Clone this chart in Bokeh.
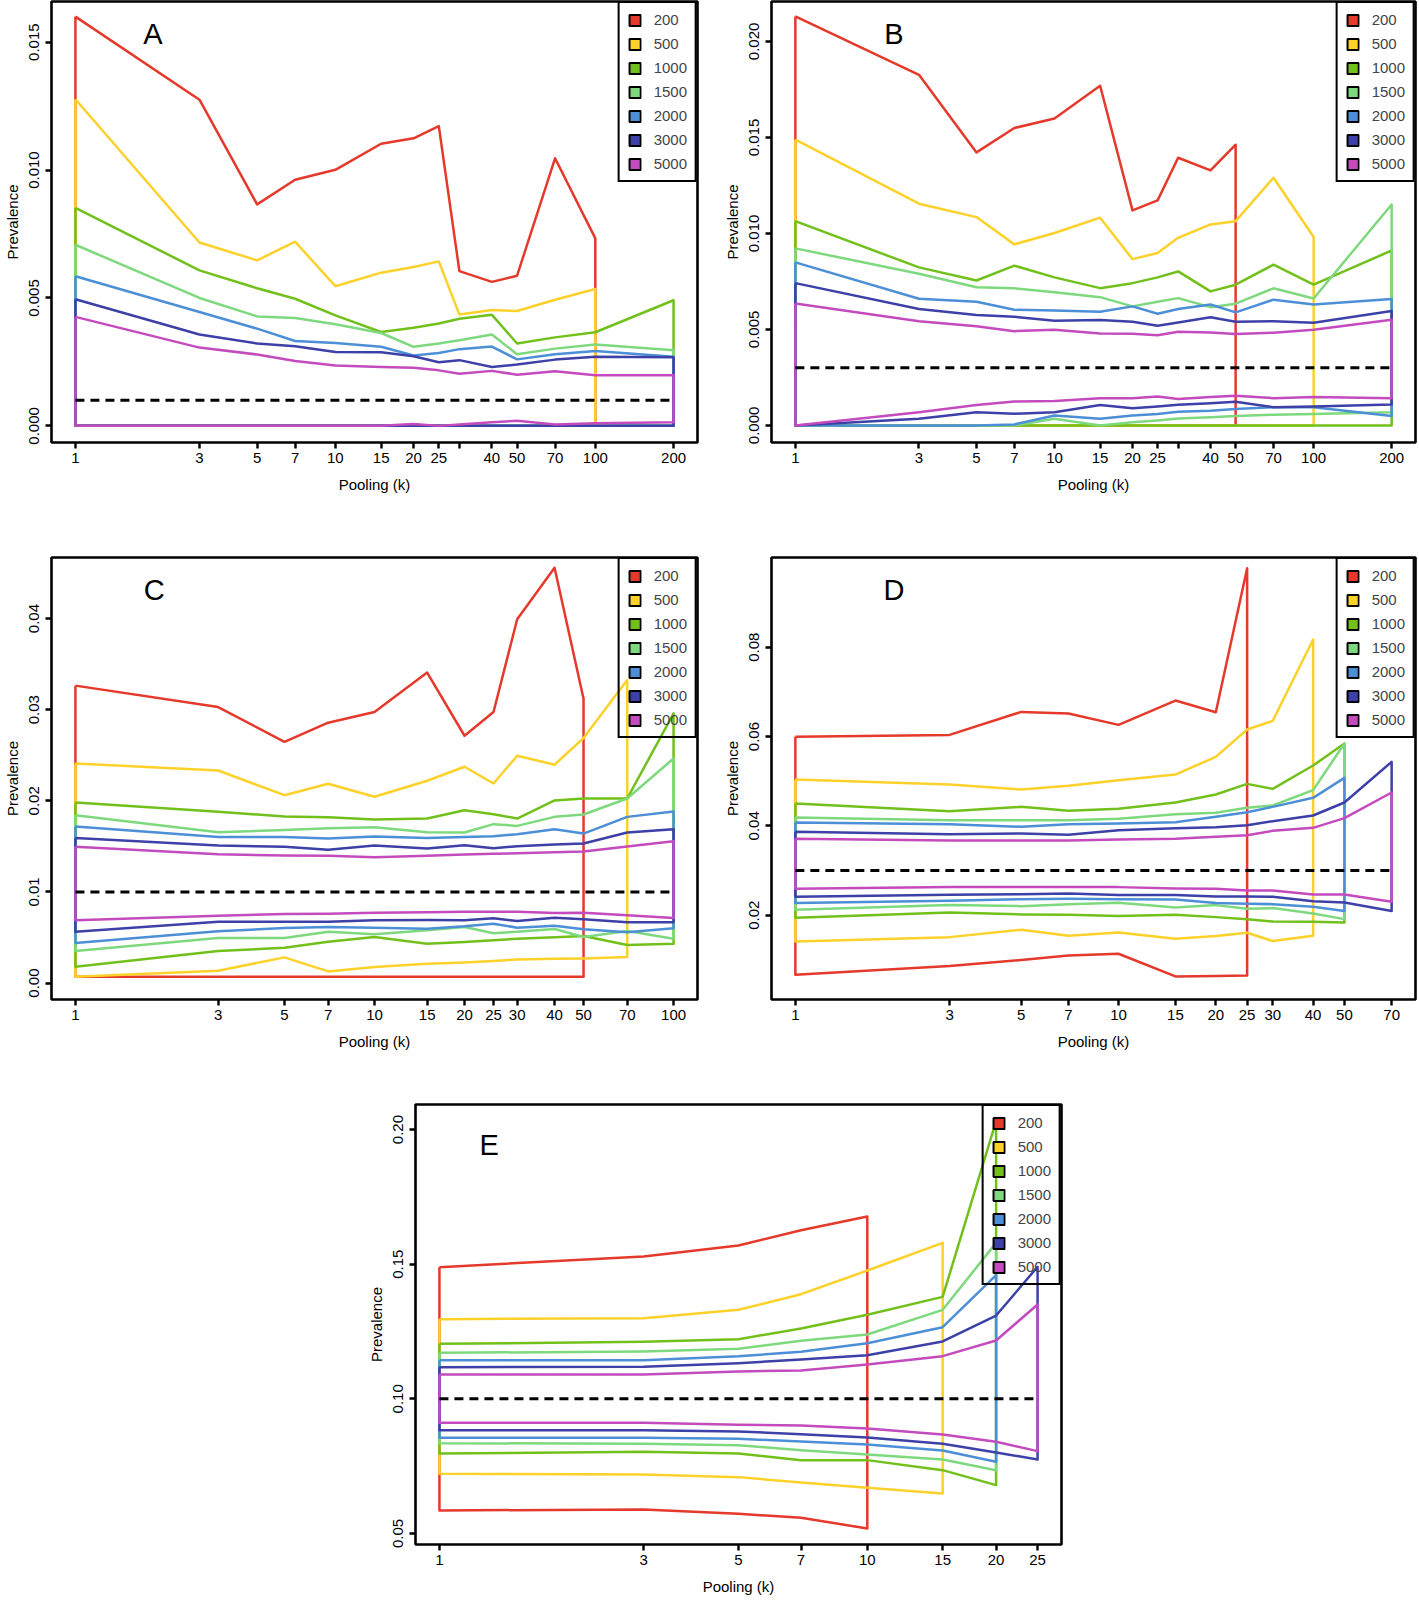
import numpy as np
from bokeh.plotting import figure
from bokeh.models import (Range1d, FixedTicker, PrintfTickFormatter, Legend,
                          LegendItem, Label, Spacer)
from bokeh.layouts import column, row
from bokeh.embed import file_html
from bokeh.resources import INLINE

FONT = "Liberation Sans"
SIZES = ["200", "500", "1000", "1500", "2000", "3000", "5000"]
COLORS = ["#E5392B", "#FCD12A", "#72C01B", "#7ED97E", "#4C8FD6", "#3D40A6", "#C44BBE"]

# ---------------- Panel A (true prevalence 0.001) ----------------
A_k = [1, 3, 5, 7, 10, 15, 20, 25, 30, 40, 50, 70, 100, 200]
A_truth = 0.001
A_hi_200 = [0.0160, 0.01275, 0.00866, 0.00962, 0.01001, 0.01103, 0.01124, 0.01172, 0.00605, 0.00563, 0.00587, 0.01046, 0.00733]
A_lo_200 = [0, 0, 0, 0, 0, 0, 0, 0, 0, 0, 0, 0, 0]
A_hi_500 = [0.01277, 0.00717, 0.00647, 0.0072, 0.00546, 0.00599, 0.00621, 0.00643, 0.00435, 0.00453, 0.00449, 0.00493, 0.00535]
A_lo_500 = [0, 0, 0, 0, 0, 0, 0, 0, 0, 0, 0, 0, 0]
A_hi_1000 = [0.00852, 0.00608, 0.00538, 0.00497, 0.00432, 0.00367, 0.00384, 0.0040, 0.00419, 0.00434, 0.00322, 0.00346, 0.00366, 0.00491]
A_lo_1000 = [0, 0, 0, 0, 0, 0, 0, 0, 0, 0, 0, 0, 0, 0]
A_hi_1500 = [0.00708, 0.0050, 0.00428, 0.00422, 0.00397, 0.00363, 0.00309, 0.00322, 0.00335, 0.00357, 0.0028, 0.00302, 0.00318, 0.00296]
A_lo_1500 = [0, 0, 0, 0, 0, 0, 0, 0, 0, 0, 0, 0, 0, 0]
A_hi_2000 = [0.00585, 0.00445, 0.0038, 0.00332, 0.00324, 0.00309, 0.00275, 0.00285, 0.0030, 0.0031, 0.0026, 0.0028, 0.00293, 0.0027]
A_lo_2000 = [0, 0, 0, 0, 0, 0, 0, 0, 0, 0, 0, 0, 0, 0]
A_hi_3000 = [0.00495, 0.00357, 0.00322, 0.00311, 0.00289, 0.00288, 0.00272, 0.00249, 0.00257, 0.0023, 0.0024, 0.00259, 0.0027, 0.00268]
A_lo_3000 = [0, 0, 0, 0, 0, 0, 0, 0, 0, 0, 0, 0, 0, 0]
A_hi_5000 = [0.00426, 0.00306, 0.00279, 0.00254, 0.00236, 0.0023, 0.00227, 0.00217, 0.00204, 0.00215, 0.002, 0.00214, 0.00198, 0.00198]
A_lo_5000 = [0, 0, 0, 0, 0, 0, 0.00007, 0, 0.00005, 0.00014, 0.0002, 0.00005, 0.0001, 0.00014]

# ---------------- Panel B (true prevalence 0.003) ----------------
B_k = [1, 3, 5, 7, 10, 15, 20, 25, 30, 40, 50, 70, 100, 200]
B_truth = 0.003
B_hi_200 = [0.0213, 0.01826, 0.01422, 0.01549, 0.01599, 0.01769, 0.0112, 0.01172, 0.01394, 0.01328, 0.01462]
B_lo_200 = [0, 0, 0, 0, 0, 0, 0, 0, 0, 0, 0]
B_hi_500 = [0.01488, 0.01155, 0.01085, 0.00943, 0.01002, 0.01082, 0.00866, 0.00898, 0.00977, 0.01047, 0.01064, 0.0129, 0.00981]
B_lo_500 = [0, 0, 0, 0, 0, 0, 0, 0, 0, 0, 0, 0, 0]
B_hi_1000 = [0.01064, 0.00823, 0.00755, 0.00832, 0.00771, 0.00715, 0.00741, 0.00771, 0.00802, 0.00698, 0.00733, 0.00837, 0.00733, 0.00911]
B_lo_1000 = [0, 0, 0, 0, 0, 0, 0, 0, 0, 0, 0, 0, 0, 0]
B_hi_1500 = [0.00922, 0.0079, 0.0072, 0.00714, 0.00693, 0.00668, 0.0062, 0.00644, 0.00663, 0.00616, 0.00634, 0.00714, 0.00661, 0.01151]
B_lo_1500 = [0, 0, 0, 0, 0.00035, 0, 0.00016, 0.00026, 0.00036, 0.00043, 0.00049, 0.00056, 0.00059, 0.00069]
B_hi_2000 = [0.00849, 0.0066, 0.00644, 0.00602, 0.00599, 0.00592, 0.0062, 0.00582, 0.00606, 0.0063, 0.00589, 0.00655, 0.0063, 0.00658]
B_lo_2000 = [0, 0, 0, 0.00005, 0.00052, 0.00035, 0.00052, 0.0006, 0.00071, 0.00076, 0.00085, 0.00095, 0.00095, 0.00049]
B_hi_3000 = [0.00741, 0.00606, 0.00575, 0.00566, 0.00545, 0.00549, 0.0054, 0.00519, 0.00536, 0.00563, 0.0054, 0.00543, 0.00535, 0.00596]
B_lo_3000 = [0, 0.00035, 0.00069, 0.00061, 0.00069, 0.00106, 0.0009, 0.00099, 0.00108, 0.00116, 0.00123, 0.00095, 0.00099, 0.00109]
B_hi_5000 = [0.00635, 0.00542, 0.00516, 0.00491, 0.00498, 0.00479, 0.00477, 0.0047, 0.00488, 0.00484, 0.00476, 0.00483, 0.00498, 0.0055]
B_lo_5000 = [0, 0.00068, 0.00106, 0.00125, 0.00127, 0.00142, 0.00141, 0.00151, 0.00137, 0.00148, 0.00155, 0.00142, 0.00148, 0.00142]

# ---------------- Panel C (true prevalence 0.01) ----------------
C_k = [1, 3, 5, 7, 10, 15, 20, 25, 30, 40, 50, 70, 100]
C_truth = 0.01
C_hi_200 = [0.03264, 0.03029, 0.02648, 0.02857, 0.02974, 0.03407, 0.02714, 0.02974, 0.03993, 0.04557, 0.03121]
C_lo_200 = [0.0007, 0.0007, 0.0007, 0.0007, 0.0007, 0.0007, 0.0007, 0.0007, 0.0007, 0.0007, 0.0007]
C_hi_500 = [0.0241, 0.02333, 0.02062, 0.02187, 0.02044, 0.0222, 0.02374, 0.0219, 0.02495, 0.02396, 0.02689, 0.03326]
C_lo_500 = [0.0007, 0.00136, 0.00282, 0.00128, 0.00176, 0.00212, 0.00227, 0.00242, 0.0026, 0.00267, 0.00271, 0.00286]
C_hi_1000 = [0.01982, 0.01879, 0.01828, 0.0182, 0.01795, 0.01806, 0.01897, 0.01853, 0.01806, 0.02004, 0.02026, 0.02026, 0.0296]
C_lo_1000 = [0.00179, 0.00352, 0.00388, 0.00454, 0.00505, 0.00432, 0.0045, 0.00469, 0.00487, 0.00502, 0.00516, 0.00418, 0.00432]
C_hi_1500 = [0.01842, 0.01656, 0.01681, 0.017, 0.01711, 0.01656, 0.01652, 0.01744, 0.01725, 0.01824, 0.0185, 0.02026, 0.02465]
C_lo_1500 = [0.00352, 0.00495, 0.00495, 0.00564, 0.00535, 0.00579, 0.00615, 0.00546, 0.00564, 0.00593, 0.00505, 0.00571, 0.00487]
C_hi_2000 = [0.01718, 0.01604, 0.01604, 0.01586, 0.01608, 0.01593, 0.01604, 0.01612, 0.01634, 0.01689, 0.01641, 0.01824, 0.01883]
C_lo_2000 = [0.0044, 0.00568, 0.00604, 0.00615, 0.00608, 0.00597, 0.00623, 0.00652, 0.00608, 0.0063, 0.0059, 0.00557, 0.00601]
C_hi_3000 = [0.01593, 0.01509, 0.01495, 0.01462, 0.01509, 0.01476, 0.01513, 0.0148, 0.01502, 0.0152, 0.01531, 0.01652, 0.01689]
C_lo_3000 = [0.00564, 0.00674, 0.00674, 0.00674, 0.00689, 0.00692, 0.00689, 0.00711, 0.00681, 0.00718, 0.007, 0.00667, 0.00667]
C_hi_5000 = [0.01495, 0.01414, 0.01399, 0.01396, 0.01381, 0.01396, 0.0141, 0.01418, 0.01425, 0.01436, 0.01443, 0.01498, 0.01557]
C_lo_5000 = [0.00689, 0.0074, 0.00758, 0.00762, 0.00773, 0.00777, 0.00784, 0.00784, 0.00784, 0.00769, 0.00773, 0.00744, 0.00714]

# ---------------- Panel D (true prevalence 0.03) ----------------
D_k = [1, 3, 5, 7, 10, 15, 20, 25, 30, 40, 50, 70]
D_truth = 0.03
D_hi_200 = [0.05993, 0.06037, 0.06552, 0.06515, 0.06261, 0.06806, 0.06545, 0.09769]
D_lo_200 = [0.00664, 0.00858, 0.00993, 0.01097, 0.01134, 0.00627, 0.00634, 0.00649]
D_hi_500 = [0.05037, 0.04925, 0.04813, 0.04896, 0.05022, 0.05149, 0.05545, 0.06157, 0.06351, 0.08172]
D_lo_500 = [0.0141, 0.01507, 0.01672, 0.01537, 0.01612, 0.0147, 0.0153, 0.01604, 0.01418, 0.01537]
D_hi_1000 = [0.045, 0.04328, 0.04425, 0.04336, 0.04381, 0.04522, 0.04701, 0.0494, 0.04828, 0.05351, 0.05843]
D_lo_1000 = [0.0194, 0.0206, 0.02015, 0.02007, 0.01978, 0.02007, 0.01955, 0.0191, 0.01858, 0.01851, 0.01836]
D_hi_1500 = [0.04187, 0.04127, 0.04127, 0.04127, 0.04157, 0.04261, 0.04291, 0.04403, 0.04455, 0.04799, 0.05843]
D_lo_1500 = [0.02119, 0.02224, 0.02201, 0.02246, 0.02276, 0.02172, 0.02224, 0.02142, 0.02157, 0.02037, 0.0191]
D_hi_2000 = [0.04075, 0.04037, 0.03978, 0.04037, 0.04052, 0.04082, 0.04201, 0.04306, 0.04425, 0.04627, 0.05075]
D_lo_2000 = [0.02269, 0.02321, 0.02358, 0.02366, 0.02358, 0.02351, 0.02269, 0.02254, 0.02246, 0.02187, 0.0209]
D_hi_3000 = [0.03866, 0.03813, 0.03828, 0.03799, 0.03903, 0.03948, 0.0397, 0.04015, 0.04104, 0.04231, 0.04522, 0.05433]
D_lo_3000 = [0.0241, 0.02455, 0.0247, 0.02485, 0.02448, 0.02448, 0.02418, 0.02418, 0.0241, 0.02313, 0.02284, 0.0209]
D_hi_5000 = [0.03709, 0.03672, 0.03672, 0.03672, 0.03694, 0.03709, 0.03754, 0.03791, 0.03888, 0.03955, 0.04172, 0.04746]
D_lo_5000 = [0.0259, 0.02627, 0.02627, 0.02627, 0.02627, 0.02597, 0.0259, 0.02552, 0.02552, 0.02463, 0.02463, 0.02299]

# ---------------- Panel E (true prevalence 0.10) ----------------
E_k = [1, 3, 5, 7, 10, 15, 20, 25]
E_truth = 0.10
E_hi_200 = [0.14889, 0.15285, 0.15693, 0.16262, 0.1677]
E_lo_200 = [0.05854, 0.05891, 0.0573, 0.05582, 0.05186]
E_hi_500 = [0.12958, 0.12995, 0.13305, 0.13886, 0.14765, 0.15792]
E_lo_500 = [0.07215, 0.07191, 0.07092, 0.06894, 0.06696, 0.06485]
E_hi_1000 = [0.12042, 0.12116, 0.12215, 0.12611, 0.13119, 0.13787, 0.2031]
E_lo_1000 = [0.0797, 0.08032, 0.0797, 0.07723, 0.07723, 0.07351, 0.06795]
E_hi_1500 = [0.11708, 0.11757, 0.11856, 0.12153, 0.12389, 0.13305, 0.15792]
E_lo_1500 = [0.08354, 0.08329, 0.0828, 0.08094, 0.07933, 0.07748, 0.07351]
E_hi_2000 = [0.11436, 0.11436, 0.11584, 0.11745, 0.12067, 0.12661, 0.14592]
E_lo_2000 = [0.08552, 0.08552, 0.08515, 0.08416, 0.08305, 0.08082, 0.07661]
E_hi_3000 = [0.11176, 0.11188, 0.11324, 0.11461, 0.11621, 0.12129, 0.13094, 0.14901]
E_lo_3000 = [0.08837, 0.08837, 0.08787, 0.08688, 0.08564, 0.08329, 0.08007, 0.07748]
E_hi_5000 = [0.10903, 0.10903, 0.11015, 0.11052, 0.11275, 0.11584, 0.12166, 0.13502]
E_lo_5000 = [0.09109, 0.09109, 0.09035, 0.0901, 0.08899, 0.08676, 0.08403, 0.08057]

A_yticks = [0.0, 0.005, 0.010, 0.015]
B_yticks = [0.0, 0.005, 0.010, 0.015, 0.020]
C_yticks = [0.0, 0.01, 0.02, 0.03, 0.04]
D_yticks = [0.02, 0.04, 0.06, 0.08]
E_yticks = [0.05, 0.10, 0.15, 0.20]


def xrange_for(ks):
    lo, hi = np.log10(ks[0]), np.log10(ks[-1])
    pad = 0.04 * (hi - lo)
    return (10 ** (lo - pad), 10 ** (hi + pad))


def make_panel(letter, ks, series, truth, yr, yticks, yfmt, hidden, letter_frac,
               width, height, borders):
    xr = xrange_for(ks)
    left, right, top, bottom = borders
    p = figure(width=width, height=height, x_axis_type="log",
               x_range=Range1d(*xr), y_range=Range1d(*yr),
               output_backend="svg", toolbar_location=None,
               min_border_left=left, min_border_right=right,
               min_border_top=top, min_border_bottom=bottom)
    p.xgrid.visible = False
    p.ygrid.visible = False
    p.background_fill_color = "white"
    p.border_fill_color = "white"
    p.outline_line_color = "black"
    p.outline_line_alpha = 1.0
    p.outline_line_width = 2.6

    items = []
    for (hi, lo), size, col in zip(series, SIZES, COLORS):
        n = len(hi)
        kk = ks[:n]
        xs = list(kk) + list(kk[::-1]) + [kk[0]]
        ys = list(hi) + list(lo[::-1]) + [hi[0]]
        p.line(xs, ys, line_color=col, line_width=2.5, line_join="round")
        r = p.rect(x=[np.nan], y=[np.nan], width=1, height=1,
                   fill_color=col, line_color="black", line_width=2)
        items.append(LegendItem(label=size, renderers=[r]))

    p.line([ks[0], ks[-1]], [truth, truth], line_color="black",
           line_width=3, line_dash="9 6")

    leg = Legend(items=items, location="top_right", margin=0, padding=8,
                 spacing=7, glyph_width=14, glyph_height=14, label_height=15,
                 label_standoff=12, label_text_font=FONT,
                 label_text_font_size="15px", border_line_color="black",
                 border_line_alpha=1.0, border_line_width=2.6,
                 background_fill_alpha=0)
    p.add_layout(leg)

    for ax in (p.xaxis[0], p.yaxis[0]):
        ax.axis_line_color = None
        ax.major_tick_out = 6
        ax.major_tick_in = 0
        ax.major_tick_line_width = 2.4
        ax.minor_tick_line_color = None
        ax.major_label_text_font = FONT
        ax.major_label_text_font_size = "15px"
        ax.major_label_text_color = "black"
        ax.axis_label_text_font = FONT
        ax.axis_label_text_font_size = "15px"
        ax.axis_label_text_font_style = "normal"
        ax.axis_label_text_color = "black"

    xa = p.xaxis[0]
    xa.ticker = FixedTicker(ticks=ks)
    xa.formatter = PrintfTickFormatter(format="%d")
    if hidden:
        xa.major_label_overrides = {h: "" for h in hidden}
    xa.major_label_standoff = 4
    xa.axis_label = "Pooling (k)"
    xa.axis_label_standoff = 10

    ya = p.yaxis[0]
    ya.ticker = FixedTicker(ticks=yticks)
    ya.formatter = PrintfTickFormatter(format=yfmt)
    ya.major_label_orientation = "vertical"
    ya.major_label_standoff = 6
    ya.axis_label = "Prevalence"
    ya.axis_label_standoff = 6

    lx0, lx1 = np.log10(xr[0]), np.log10(xr[1])
    fx, fy = letter_frac
    lx = 10 ** (lx0 + fx * (lx1 - lx0))
    ly = yr[1] - fy * (yr[1] - yr[0])
    p.add_layout(Label(x=lx, y=ly, text=letter, text_font=FONT,
                       text_font_size="29px", text_align="center",
                       text_baseline="middle", text_color="black"))
    return p


def pack(prefix):
    g = globals()
    return [(g[f"{prefix}_hi_{s}"], g[f"{prefix}_lo_{s}"]) for s in SIZES]


pA = make_panel("A", A_k, pack("A"), A_truth, (-0.00065, 0.01659), A_yticks, "%.3f",
                [30], (0.157, 0.073), 720, 496, (51, 23, 1, 54))
pB = make_panel("B", B_k, pack("B"), B_truth, (-0.00089, 0.02208), B_yticks, "%.3f",
                [30], (0.19, 0.073), 697, 496, (51, 2, 1, 54))
pC = make_panel("C", C_k, pack("C"), C_truth, (-0.0018, 0.0467), C_yticks, "%.2f",
                None, (0.159, 0.073), 720, 557, (51, 23, 61, 54))
pD = make_panel("D", D_k, pack("D"), D_truth, (0.0011, 0.1001), D_yticks, "%.2f",
                None, (0.19, 0.073), 697, 557, (51, 2, 61, 54))
pE = make_panel("E", E_k, pack("E"), E_truth, (0.0459, 0.2093), E_yticks, "%.2f",
                None, (0.114, 0.091), 720, 545, (51, 23, 51, 54))

layout = column(row(pA, pB), row(pC, pD), row(Spacer(width=364, height=10), pE))

open("out.html", "w").write(file_html(layout, INLINE))
